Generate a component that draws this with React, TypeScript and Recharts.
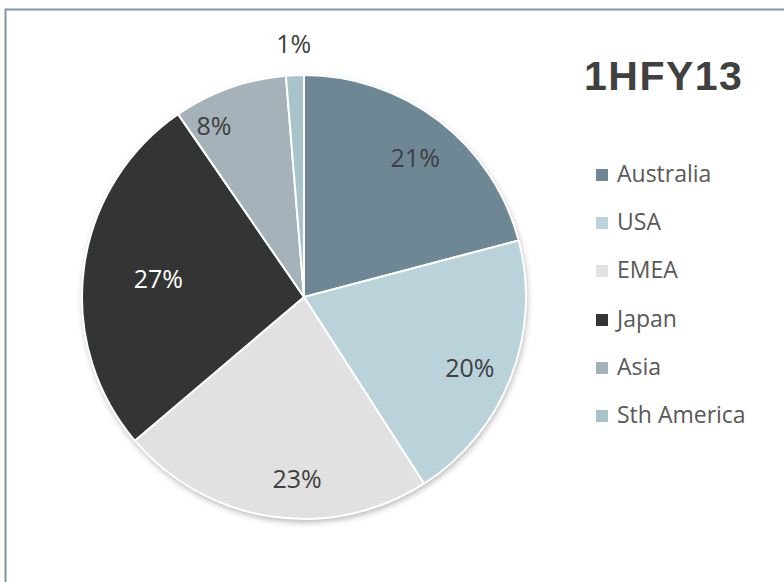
import React from 'react';
import { PieChart, Pie, Cell, Legend } from 'recharts';

const regions = ['Australia', 'USA', 'EMEA', 'Japan', 'Asia', 'Sth America'];
const shares = [20.9, 20.0, 22.9, 26.6, 8.3, 1.3];
const colors = ['#6E8795', '#BAD3DB', '#E1E1E1', '#333535', '#A6B2B9', '#A9C3CA'];
const title = '1HFY13';

const data = regions.map((name, i) => ({ name, value: shares[i] }));

// label placement style: radius (px), angular nudge (deg) and text colour per slice
const labelPlacement = [
  { r: 179, da: 0.8, fill: '#404040' },
  { r: 180, da: 1.6, fill: '#404040' },
  { r: 181, da: -6.3, fill: '#404040' },
  { r: 147, da: 0, fill: '#ffffff' },
  { r: 194, da: -8, fill: '#404040' },
  { r: 254, da: 0, fill: '#404040' },
];

const CX = 304;
const CY = 297;
const R = 222;

const renderLabel = (props: any) => {
  const { cx, cy, midAngle, percent, index } = props;
  const p = labelPlacement[index];
  const theta = ((90 - midAngle + p.da) * Math.PI) / 180;
  const x = cx + p.r * Math.sin(theta);
  const y = cy - p.r * Math.cos(theta);
  return (
    <text
      x={x}
      y={y}
      textAnchor="middle"
      dominantBaseline="central"
      fill={p.fill}
      style={{ fontFamily: '"Open Sans", sans-serif', fontSize: 25 }}
    >
      {`${Math.round(percent * 100)}%`}
    </text>
  );
};

const renderLegend = (props: any) => {
  const payload = (props.payload || [])
    .filter((p: any) => p.type !== 'none' && regions.indexOf(p.value) >= 0)
    .slice()
    .sort((a: any, b: any) => regions.indexOf(a.value) - regions.indexOf(b.value));
  return (
    <div style={{ position: 'relative', width: 180, height: 300 }}>
      {payload.map((entry: any, i: number) => (
        <div
          key={i}
          style={{
            position: 'absolute',
            left: 0,
            top: i * 48.2,
            height: 24,
            width: 180,
          }}
        >
          <div
            style={{
              position: 'absolute',
              left: 0,
              top: 8,
              width: 12,
              height: 12,
              background: entry.color,
            }}
          />
          <div
            style={{
              position: 'absolute',
              left: 21,
              top: 0,
              lineHeight: '24px',
              fontFamily: '"Open Sans", sans-serif',
              fontSize: 23,
              color: '#595959',
              whiteSpace: 'nowrap',
            }}
          >
            {entry.value}
          </div>
        </div>
      ))}
    </div>
  );
};

export default function App() {
  return (
    <div
      style={{
        position: 'fixed',
        left: 0,
        top: 0,
        width: 784,
        height: 582,
        overflow: 'hidden',
        background: '#fff',
      }}
    >
      <svg width="0" height="0" style={{ position: 'absolute' }}>
        <defs>
          <filter id="pieShadow" x="-20%" y="-20%" width="140%" height="140%">
            <feDropShadow dx="1" dy="3" stdDeviation="3" floodColor="#000" floodOpacity="0.3" />
          </filter>
        </defs>
      </svg>
      <div style={{ position: 'absolute', left: 0, top: 0 }}>
        <PieChart width={784} height={582} margin={{ top: 0, right: 0, bottom: 0, left: 0 }}>
          <Pie
            data={[{ name: 'bg', value: 1 }]}
            dataKey="value"
            cx={CX}
            cy={CY}
            outerRadius={R}
            startAngle={90}
            endAngle={-270}
            stroke="none"
            legendType="none"
            isAnimationActive={false}
          >
            <Cell fill="#ffffff" filter="url(#pieShadow)" />
          </Pie>
          <Pie
            data={data}
            dataKey="value"
            nameKey="name"
            cx={CX}
            cy={CY}
            outerRadius={R}
            startAngle={90}
            endAngle={-270}
            stroke="#ffffff"
            strokeWidth={2}
            label={renderLabel}
            labelLine={false}
            isAnimationActive={false}
          >
            {data.map((d, i) => (
              <Cell key={d.name} fill={colors[i]} />
            ))}
          </Pie>
          <Legend
            content={renderLegend}
            wrapperStyle={{ position: 'absolute', left: 596, top: 161, width: 180, height: 300 }}
          />
        </PieChart>
      </div>
      <svg
        width={784}
        height={582}
        style={{ position: 'absolute', left: 0, top: 0, zIndex: 2, pointerEvents: 'none' }}
      >
        <path d="M5.5,600 L5.5,9.5 L800,9.5" fill="none" stroke="#7F93AA" strokeWidth={2} />
      </svg>
      <div
        style={{
          position: 'absolute',
          left: 584,
          top: 56,
          lineHeight: '40px',
          fontFamily: '"Liberation Sans", Arial, sans-serif',
          fontWeight: 'bold',
          fontSize: 41,
          letterSpacing: 1.5,
          color: '#404040',
          whiteSpace: 'nowrap',
        }}
      >
        {title}
      </div>
    </div>
  );
}
